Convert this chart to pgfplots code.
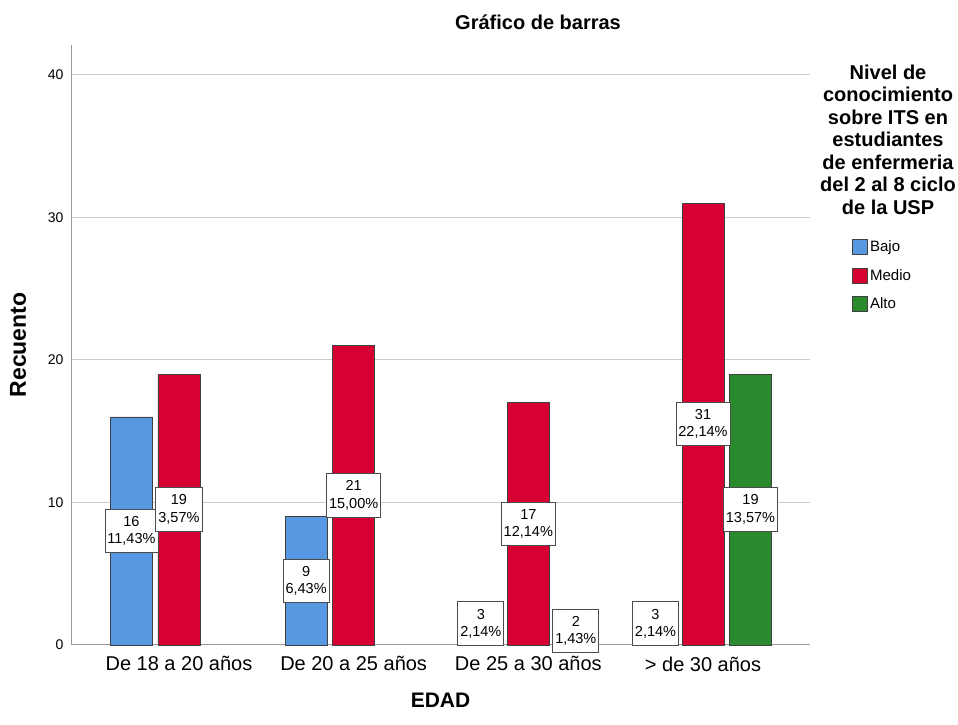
\documentclass[border=0pt]{standalone}
\usepackage{fontspec}
\setmainfont{Liberation Sans}
\usepackage{pgfplots}
\pgfplotsset{compat=1.18}
\definecolor{bajo}{HTML}{5898E2}
\definecolor{medio}{HTML}{D60032}
\definecolor{alto}{HTML}{2A8A2E}
\definecolor{gridc}{HTML}{CCCCCC}
\definecolor{axc}{HTML}{999999}
\pgfplotsset{
  boxleg/.style={legend image code/.code={\draw[##1, draw=black!75, line width=0.8pt] (0pt,-7.5pt) rectangle (15pt,7.5pt);}},
}
\begin{document}
\begin{tikzpicture}
\path[use as bounding box] (0,0) rectangle (958pt,725pt);
\begin{axis}[
  at={(71pt,80pt)}, anchor=south west,
  scale only axis, width=739pt, height=600pt,
  xmin=-0.618, xmax=3.6125, ymin=0, ymax=42.1,
  axis x line*=bottom, axis y line*=left,
  axis line style={-, draw=axc, line width=1pt},
  ymajorgrids, grid style={draw=gridc, line width=1pt},
  xtick={0,1,2,3},
  xticklabels={De 18 a 20 años, De 20 a 25 años, De 25 a 30 años, > de 30 años},
  ytick={0,10,20,30,40},
  major tick length=0pt,
  /pgf/number format/assume math mode=true,
  xticklabel style={font=\fontsize{20}{24}\selectfont, yshift=-8pt},
  yticklabel style={font=\fontsize{14}{16}\selectfont, xshift=-4pt},
  ybar, bar width=42pt,
  clip=false,
  nodes near coords,
  nodes near coords align=center,
  point meta=explicit symbolic,
  visualization depends on={rawy \as \rawy},
  every node near coord/.append style={anchor=center, yshift={-7.1259pt*\rawy},
    fill=white, draw=black!70, line width=0.8pt, align=center, text=black,
    font=\fontsize{14.5}{17.5}\selectfont, inner xsep=2.5pt, inner ysep=7pt},
  title={Gráfico de barras},
  title style={at={(axis description cs:0.632,1.028)}, anchor=center, font=\fontsize{20}{24}\selectfont\bfseries},
  xlabel={EDAD},
  xlabel style={at={(axis description cs:0.5,-0.0917)}, anchor=center, font=\fontsize{21}{24}\selectfont\bfseries},
  ylabel={Recuento},
  ylabel style={at={(axis description cs:-0.0717,0.5)}, anchor=center, rotate=0, font=\fontsize{23}{26}\selectfont\bfseries},
  legend style={at={(axis description cs:1.057,0.677)}, anchor=north west, draw=none, fill=none,
    font=\fontsize{15}{18}\selectfont, row sep=12pt, inner sep=0pt},
  legend cell align=left,
]
\addplot[boxleg, fill=bajo, draw=black!75, line width=0.8pt, bar shift=-47.5pt] coordinates {
  (0,16) [16\\11,43\%]
  (1,9)  [9\\6,43\%]
  (2,3)  [3\\2,14\%]
  (3,3)  [3\\2,14\%]
};
\addplot[boxleg, fill=medio, draw=black!75, line width=0.8pt, bar shift=0pt] coordinates {
  (0,19) [19\\3,57\%]
  (1,21) [21\\15,00\%]
  (2,17) [17\\12,14\%]
  (3,31) [31\\22,14\%]
};
\addplot[boxleg, fill=alto, draw=black!75, line width=0.8pt, bar shift=47.5pt] coordinates {
  (2,2)  [2\\1,43\%]
  (3,19) [19\\13,57\%]
};
\legend{Bajo, Medio, Alto}
\end{axis}
\node[align=center, font=\fontsize{20}{22.5}\selectfont\bfseries] at (888pt,585.5pt)
  {Nivel de\\conocimiento\\sobre ITS en\\estudiantes\\de enfermeria\\del 2 al 8 ciclo\\de la USP};
\end{tikzpicture}
\end{document}
